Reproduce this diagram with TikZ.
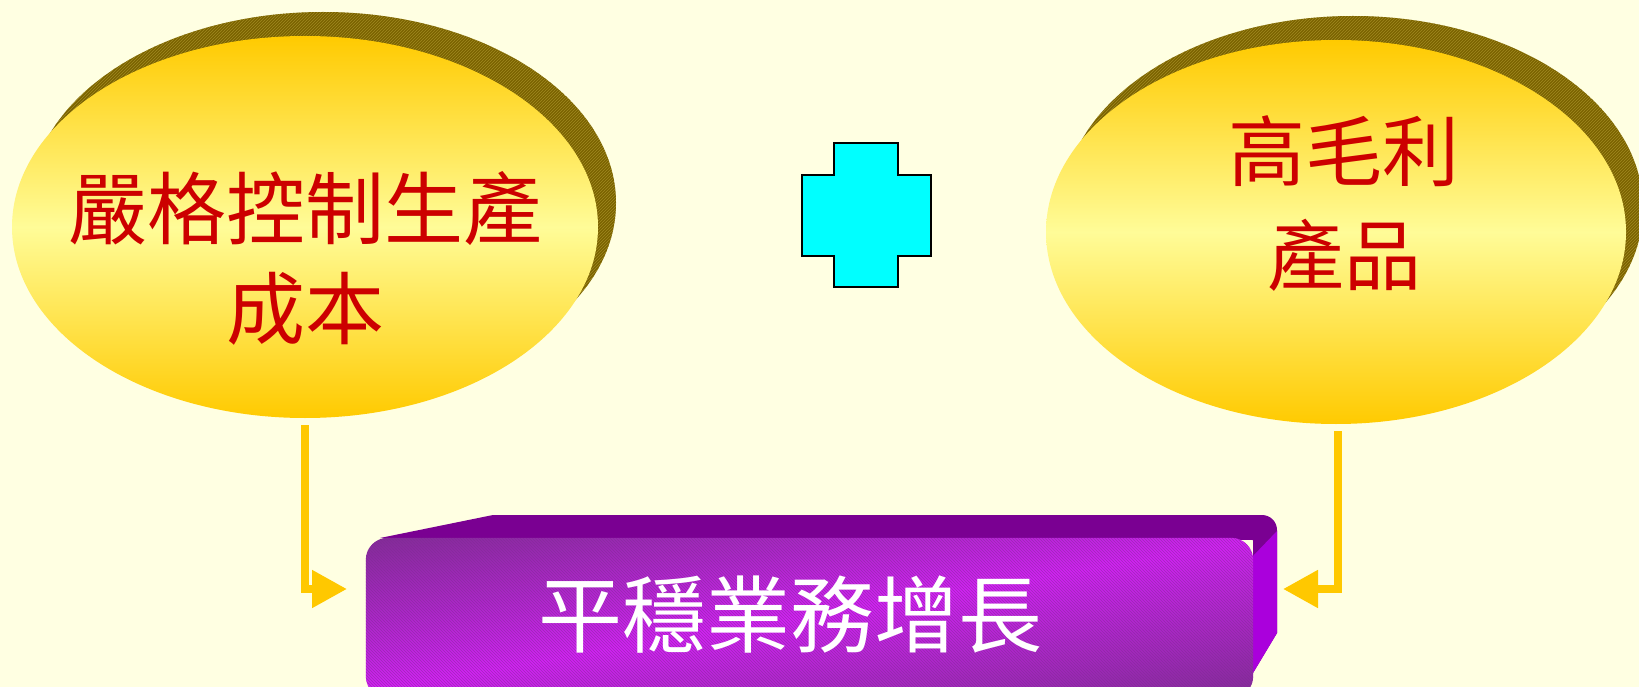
\documentclass[tikz,border=0pt]{standalone}
\usepackage{fontspec}
\newfontfamily\cjk{Noto Sans CJK TC}
\usetikzlibrary{shapes.geometric,arrows.meta,patterns}
\definecolor{bg}{HTML}{FFFFE2}
\definecolor{gold}{HTML}{FFC800}
\definecolor{goldtop}{HTML}{FFCA00}
\definecolor{goldmid}{HTML}{FFFC98}
\definecolor{olive}{HTML}{7A6200}
\definecolor{olivelight}{HTML}{A08A20}
\definecolor{redtext}{HTML}{CC0000}
\definecolor{ptop}{HTML}{7A0092}
\definecolor{pside}{HTML}{AA00DC}
\definecolor{pdark}{HTML}{7E2C92}
\definecolor{pbright}{HTML}{D222F4}
\definecolor{plus}{HTML}{00FFFF}
\tikzset{
  coin/.style={ellipse, inner sep=0pt, minimum width=#1, top color=goldtop, bottom color=goldtop, middle color=goldmid},
  coinshadow/.style={fill=olive},
  hatch/.style={pattern=north east lines, pattern color=olivelight},
  redlabel/.style={text=redtext, align=center, font=\cjk\fontsize{79}{100}\selectfont, inner sep=0pt},
  flow/.style={draw=gold, line width=8pt, line join=miter, -{Triangle[length=35pt,width=36pt]}},
  frontface/.style={rounded corners=22pt, minimum width=887pt, minimum height=160pt, inner sep=0pt},
  whitelabel/.style={text=white, font=\cjk\fontsize{84}{90}\selectfont, inner sep=0pt}
}
\begin{document}
\begin{tikzpicture}[x=1pt,y=1pt]
\useasboundingbox (0,0) rectangle (1639,-687);
\clip (0,0) rectangle (1639,-687);
\fill[bg] (0,0) rectangle (1639,-687);

% left ellipse
\fill[coinshadow] (323,-203) ellipse [x radius=293, y radius=191];
\fill[hatch] (323,-203) ellipse [x radius=293, y radius=191];
\node[coin=586pt, minimum height=382pt] (cost) at (305,-227) {};
\node[redlabel] (costtext) at (305,-258) {嚴格控制生產\\成本};

% right ellipse
\fill[coinshadow] (1353,-208) ellipse [x radius=290, y radius=192];
\fill[hatch] (1353,-208) ellipse [x radius=290, y radius=192];
\node[coin=580pt, minimum height=384pt] (margin) at (1336,-232) {};
\node[redlabel, font=\cjk\fontsize{77}{104}\selectfont] (margintext) at (1344,-204) {高毛利\\產品};

% plus sign
\filldraw[fill=plus, draw=black, line width=1.6pt]
  (834,-143) -- (898,-143) -- (898,-175) -- (931,-175) -- (931,-256) -- (898,-256)
  -- (898,-287) -- (834,-287) -- (834,-256) -- (802,-256) -- (802,-175) -- (834,-175) -- cycle;

% 3D box
\fill[ptop] (380,-538) -- (493,-515) -- (1262,-515) to[out=0,in=90] (1277,-530)
  -- (1277,-633) -- (1253,-673) -- (1253,-540) -- cycle;
\fill[pside] (1253,-556) -- (1277,-531) -- (1277,-633) -- (1253,-673) -- cycle;
\node[frontface] (growth) at (809.5,-618) {};
\begin{scope}
  \clip[rounded corners=22pt] (growth.south west) rectangle (growth.north east);
  \shade[transform canvas={yslant=0.169}, top color=pdark, bottom color=pdark, middle color=pbright]
    (356,-915) rectangle (1263,-590);
  \fill[pattern=north west lines, pattern color=pdark, opacity=0.55]
    (growth.south west) rectangle (growth.north east);
\end{scope}
\node[whitelabel] (growthtext) at (790,-615) {平穩業務增長};

% arrows
\coordinate (s1) at ([yshift=-7pt]cost.south);
\coordinate (t1) at (347,-589);
\draw[flow] (s1) |- (t1);
\coordinate (s2) at (1338,-431);
\coordinate (t2) at (1283,-589);
\draw[flow] (s2) |- (t2);
\end{tikzpicture}
\end{document}
